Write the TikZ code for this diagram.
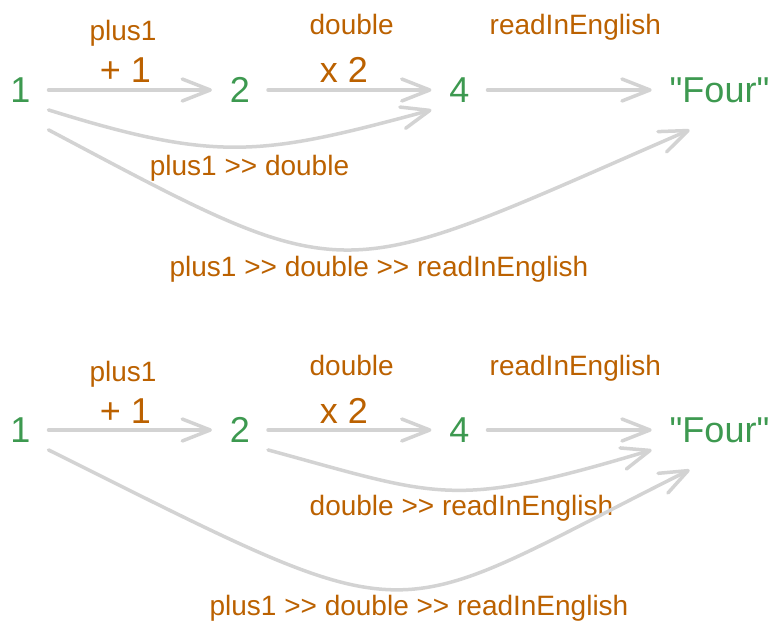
\documentclass[tikz,border=0pt]{standalone}
\usepackage{fontspec}
\setmainfont{Liberation Sans}[Ligatures=TeXOff]
\usetikzlibrary{arrows.meta}
\definecolor{valgreen}{HTML}{3D9950}
\definecolor{fnorange}{HTML}{BB6100}
\definecolor{arrgray}{HTML}{D3D3D3}

\begin{document}
\begin{tikzpicture}[x=1bp,y=-1bp,
    val/.style={text=valgreen,font=\fontsize{36bp}{40bp}\selectfont,inner sep=0pt,outer sep=18bp},
    op/.style={text=fnorange,font=\fontsize{36bp}{40bp}\selectfont,anchor=base,inner sep=0pt},
    fn/.style={text=fnorange,font=\fontsize{28bp}{32bp}\selectfont,anchor=base,inner sep=0pt},
    arr/.style={draw=arrgray,line width=3.5bp,line cap=round,
        -{Straight Barb[length=28bp,width=22bp,line cap=round,round]}}]
    \useasboundingbox (0,0) rectangle (779,632);
    % first chain
    \node[val] (n1) at (20.5,90) {1};
    \node[val] (n2) at (240,90) {2};
    \node[val] (n4) at (459.5,90) {4};
    \node[val] (nfour) at (719.5,90) {"Four"};
    \node[fn] (n1name) at (123,41) {plus1};
    \node[op] (n1op) at (125.5,83) {+ 1};
    \node[fn] (n2name) at (351.7,35) {double};
    \node[op] (n2op) at (344,83) {x 2};
    \node[fn] (n4name) at (575.3,35) {readInEnglish};
    \draw[arr] (n1) -- (n2);
    \draw[arr] (n2) -- (n4);
    \draw[arr] (n4) -- (nfour);
    \draw[arr] ([yshift=-20]n1.east) .. controls +(170,53) and +(-170,46) .. ([yshift=-20]n4.west);
    \node[fn] (n1to4) at (249.5,176) {plus1 >> double};
    \draw[arr] ([yshift=-40]n1.east) .. controls +(309,164) and +(-359,156) .. ([xshift=-30,yshift=-40]nfour.center);
    \node[fn] (n1tofour) at (379,276) {plus1 >> double >> readInEnglish};
    % second chain
    \node[val] (m1) at (20.5,430) {1};
    \node[val] (m2) at (240,430) {2};
    \node[val] (m4) at (459.5,430) {4};
    \node[val] (mfour) at (719.5,430) {"Four"};
    \node[fn] (m1name) at (123,381) {plus1};
    \node[op] (m1op) at (125.5,423) {+ 1};
    \node[fn] (m2name) at (351.7,375) {double};
    \node[op] (m2op) at (344,423) {x 2};
    \node[fn] (m4name) at (575.3,375) {readInEnglish};
    \draw[arr] (m1) -- (m2);
    \draw[arr] (m2) -- (m4);
    \draw[arr] (m4) -- (mfour);
    \draw[arr] ([yshift=-20]m2.east) .. controls +(173,47) and +(-200,60) .. ([yshift=-20]mfour.west);
    \node[fn] (m2tofour) at (461.5,515) {double >> readInEnglish};
    \draw[arr] ([yshift=-20]m1.east) .. controls +(381,190) and +(-312,156) .. ([xshift=-30,yshift=-40]mfour.center);
    \node[fn] (m1tofour) at (419,615) {plus1 >> double >> readInEnglish};
\end{tikzpicture}
\end{document}
